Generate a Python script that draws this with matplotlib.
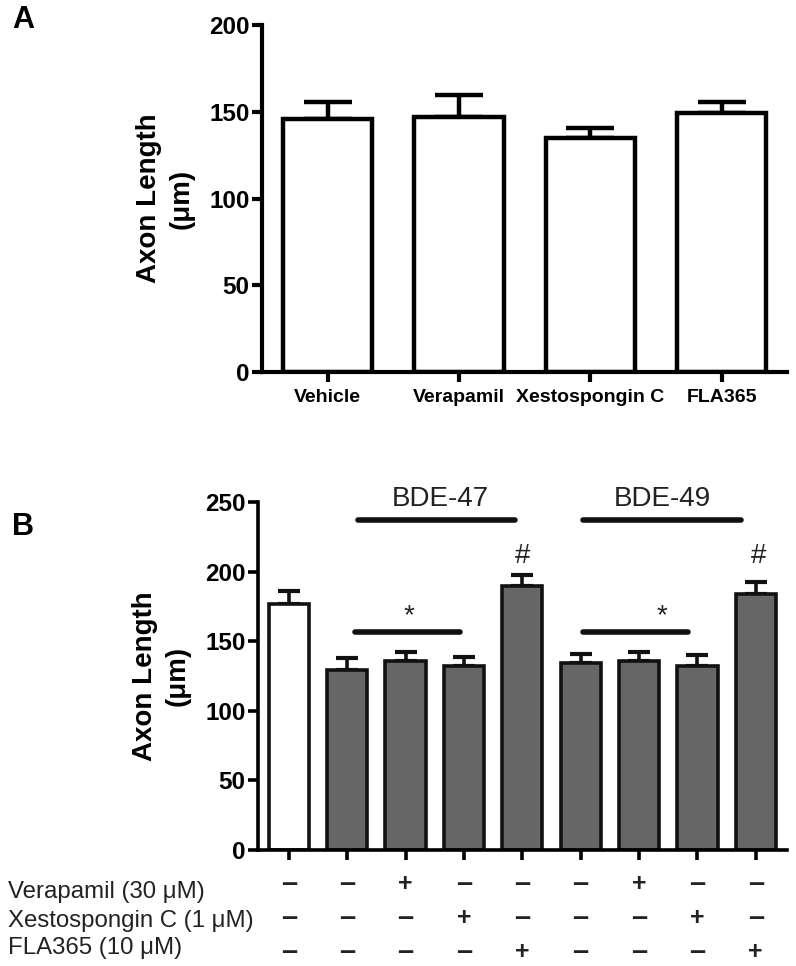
import matplotlib
matplotlib.use("Agg")
import matplotlib.pyplot as plt
from matplotlib.transforms import blended_transform_factory

plt.rcParams['font.family'] = ['Liberation Sans', 'DejaVu Sans']

# ---- Panel A data ----
a_categories = ['Vehicle', 'Verapamil', 'Xestospongin C', 'FLA365']
a_means = [145.8, 147.0, 135.0, 149.3]
a_errs = [9.8, 12.7, 5.6, 6.3]

# ---- Panel B data ----
b_means = [176.7, 129.3, 135.8, 132.0, 189.7, 134.0, 135.8, 132.2, 184.0]
b_errs = [9.3, 8.7, 6.2, 7.0, 7.9, 7.0, 6.2, 7.8, 8.5]
b_colors = ['white'] + ['#666666'] * 8
row_labels = ['Verapamil (30 μM)', 'Xestospongin C (1 μM)', 'FLA365 (10 μM)']
verapamil_row = ['–', '–', '+', '–', '–', '–', '+', '–', '–']
xesto_row = ['–', '–', '–', '+', '–', '–', '–', '+', '–']
fla_row = ['–', '–', '–', '–', '+', '–', '–', '–', '+']

fig = plt.figure(figsize=(7.96, 9.66), dpi=100)

# ================= Panel A =================
axA = fig.add_axes([0.329, 0.6149, 0.660, 0.3592])
xa = list(range(len(a_categories)))
axA.bar(xa, a_means, width=0.68, color='white', edgecolor='black', linewidth=3.2, zorder=2)
axA.errorbar(xa, a_means, yerr=[[0] * len(a_errs), a_errs], fmt='none', ecolor='black',
             elinewidth=3.2, capsize=17, capthick=3.2, zorder=1)
axA.set_xlim(-0.5, 3.5)
axA.set_ylim(0, 200)
axA.set_yticks([0, 50, 100, 150, 200])
axA.set_xticks(xa)
axA.set_xticklabels(a_categories, fontsize=14, fontweight='bold')
for lab in axA.get_yticklabels():
    lab.set_fontsize(17.5)
    lab.set_fontweight('bold')
for s in ['top', 'right']:
    axA.spines[s].set_visible(False)
for s in ['left', 'bottom']:
    axA.spines[s].set_linewidth(3.0)
axA.tick_params(axis='y', direction='out', length=7, width=3.0, pad=2)
axA.tick_params(axis='x', direction='out', length=7, width=3.0, pad=5)
axA.set_ylabel('Axon Length\n(μm)', fontsize=20, fontweight='bold', labelpad=10,
               multialignment='center', linespacing=1.35)

fig.text(0.029, 0.979, 'A', fontsize=22, fontweight='bold', ha='center', va='center')

# ================= Panel B =================
axB = fig.add_axes([0.324, 0.1201, 0.665, 0.3602])
xb = list(range(len(b_means)))
axB.bar(xb, b_means, width=0.69, color=b_colors, edgecolor='#111111', linewidth=2.6, zorder=2)
axB.errorbar(xb, b_means, yerr=[[0] * len(b_errs), b_errs], fmt='none', ecolor='#111111',
             elinewidth=2.6, capsize=8, capthick=3.0, zorder=1)
axB.set_xlim(-0.53, 8.54)
axB.set_ylim(0, 250)
axB.set_yticks([0, 50, 100, 150, 200, 250])
axB.set_xticks(xb)
axB.set_xticklabels([])
for lab in axB.get_yticklabels():
    lab.set_fontsize(17.5)
    lab.set_fontweight('bold')
for s in ['top', 'right']:
    axB.spines[s].set_visible(False)
for s in ['left', 'bottom']:
    axB.spines[s].set_linewidth(2.6)
axB.tick_params(axis='both', direction='out', length=7, width=2.6, pad=2)
axB.set_ylabel('Axon Length\n(μm)', fontsize=20, fontweight='bold', labelpad=10,
               multialignment='center', linespacing=1.35)

# group lines & labels
lw = 4
axB.plot([1.18, 3.88], [237, 237], color='#111111', lw=lw, solid_capstyle='round', clip_on=False)
axB.plot([5.04, 7.74], [237, 237], color='#111111', lw=lw, solid_capstyle='round', clip_on=False)
axB.text(2.59, 252, 'BDE-47', fontsize=20, ha='center', va='center', color='#222222')
axB.text(6.40, 252, 'BDE-49', fontsize=20, ha='center', va='center', color='#222222')
axB.plot([1.13, 2.93], [156.6, 156.6], color='#111111', lw=lw, solid_capstyle='round')
axB.plot([5.04, 6.84], [156.6, 156.6], color='#111111', lw=lw, solid_capstyle='round')
axB.text(2.06, 168, '*', fontsize=20, ha='center', va='center', color='#222222')
axB.text(6.40, 168, '*', fontsize=20, ha='center', va='center', color='#222222')
axB.text(4.0, 211, '#', fontsize=20, ha='center', va='center', color='#222222')
axB.text(8.04, 211, '#', fontsize=20, ha='center', va='center', color='#222222')

# treatment table
trans = blended_transform_factory(axB.transData, fig.transFigure)
sign_rows = [verapamil_row, xesto_row, fla_row]
sign_y = [884, 918, 952]
label_y = [892, 921, 948]
for row, yp in zip(sign_rows, sign_y):
    for xi, s in zip(xb, row):
        if s == '+':
            fig.text(xi, 1 - yp / 966, s, transform=trans, fontsize=18, fontweight='bold',
                     ha='center', va='center', color='#222222')
        else:
            fig.text(xi, 1 - yp / 966, s, transform=trans, fontsize=21, fontweight='bold',
                     ha='center', va='center', color='#222222')
for lab, yp in zip(row_labels, label_y):
    fig.text(8 / 796, 1 - yp / 966, lab, fontsize=17.3, ha='left', va='center', color='#222222')

fig.text(0.029, 1 - 527 / 966, 'B', fontsize=22, fontweight='bold', ha='center', va='center')

fig.savefig('out.png', dpi=100)
